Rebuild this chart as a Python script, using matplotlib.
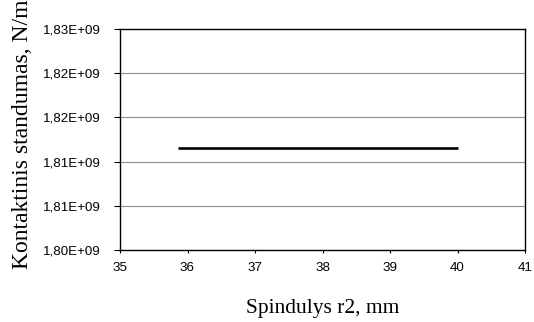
import matplotlib
matplotlib.use("Agg")
import matplotlib.pyplot as plt
from matplotlib.ticker import FuncFormatter

# data
radius_mm = [35.86, 40.0]
stiffness = [1.81385e9, 1.81385e9]

x_ticks = [35, 36, 37, 38, 39, 40, 41]
y_ticks = [1.800e9, 1.806e9, 1.812e9, 1.818e9, 1.824e9, 1.830e9]


def excel_sci(v, pos):
    return f"{v / 1e9:.2f}E+09".replace(".", ",")


fig = plt.figure(figsize=(5.34, 3.22), dpi=100)
ax = fig.add_axes([120 / 534, 72 / 322, 405 / 534, 221 / 322])

ax.plot(radius_mm, stiffness, color="black", lw=1.9, solid_capstyle="butt")

ax.set_xlim(35, 41)
ax.set_ylim(1.800e9, 1.830e9)
ax.set_xticks(x_ticks)
ax.set_yticks(y_ticks)
ax.yaxis.set_major_formatter(FuncFormatter(excel_sci))
ax.yaxis.get_offset_text().set_visible(False)

ax.grid(axis="y", color="#8c8c8c", lw=0.8)
ax.set_axisbelow(True)
for s in ax.spines.values():
    s.set_color("black")
    s.set_linewidth(1.0)

ax.tick_params(axis="y", direction="out", length=4, width=0.8, pad=10,
               labelsize=9.6)
ax.tick_params(axis="x", direction="out", length=2.5, width=0.8, pad=6,
               labelsize=9.6)
for lab in ax.get_xticklabels() + ax.get_yticklabels():
    lab.set_fontfamily("Liberation Sans")

fig.text(323 / 534, 1 - 308 / 322, "Spindulys r2, mm", ha="center", va="center",
         fontsize=15.5, fontfamily="Liberation Serif")
# the label runs past the top edge of the figure in the original
fig.text(23 / 534, 1 - 134 / 322, "Kontaktinis standumas, N/m", ha="center",
         va="center", rotation=90, fontsize=17, fontfamily="Liberation Serif")

fig.savefig("out.png", dpi=100)
